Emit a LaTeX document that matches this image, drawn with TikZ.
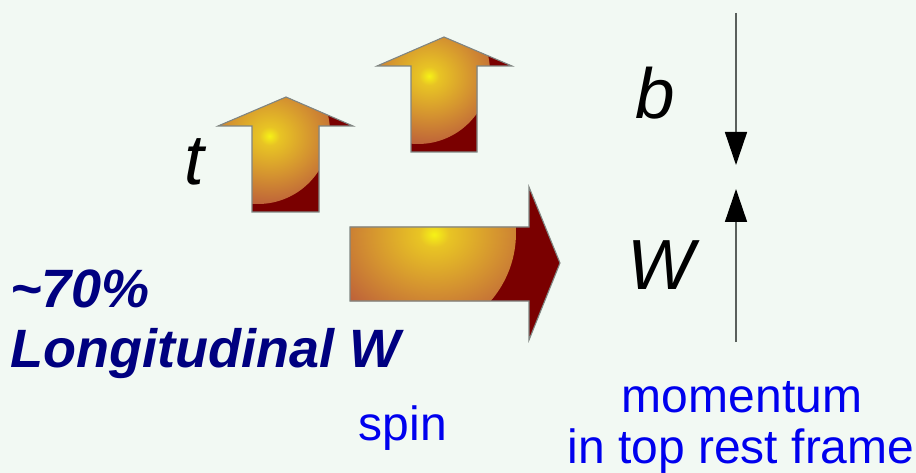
\documentclass[tikz,border=0pt]{standalone}
\usepackage{fontspec}
\setmainfont{Liberation Sans}
\usetikzlibrary{
  arrows.meta,
  positioning
}
\definecolor{bgmint}{RGB}{242, 249, 243}
\definecolor{glowcore}{RGB}{246, 242, 22}
\definecolor{glowgold}{RGB}{232, 196, 36}
\definecolor{glowamber}{RGB}{212, 146, 48}
\definecolor{glowrim}{RGB}{184, 86, 60}
\definecolor{spindark}{RGB}{122, 0, 0}
\definecolor{rimgray}{RGB}{128, 134, 130}
\definecolor{axisgray}{RGB}{90, 96, 92}
\definecolor{fractioncolor}{RGB}{0, 0, 128}
\definecolor{notecolor}{RGB}{0, 0, 238}
\pgfdeclareradialshading{spinglow}{\pgfpoint{0bp}{0bp}}{%
  color(0bp)=(glowcore);
  color(3bp)=(glowgold);
  color(13bp)=(glowamber);
  color(25bp)=(glowrim);
  color(50bp)=(glowrim)}
\tikzset{
spinblock/.style={
  draw=rimgray,
  line width=1.1pt,
  fill=spindark,
  line join=miter
},
particle/.style={
  font=\fontsize{71}{71}\selectfont\itshape,
  text=black,
  inner sep=0pt
},
fractionlabel/.style={
  font=\fontsize{54}{60}\selectfont\bfseries\itshape,
  text=fractioncolor,
  inner sep=0pt
},
notelabel/.style={
  font=\fontsize{48}{52}\selectfont,
  text=notecolor,
  inner sep=0pt
},
momarrow/.style={
  -{Triangle[length=33pt,width=22pt,color=black]},
  line width=1.5pt,
  draw=axisgray
}
}

\begin{document}
\begin{tikzpicture}[x=1pt, y=-1pt]
  \fill[bgmint] (0,0) rectangle (916,473);
  \useasboundingbox (0,0) rectangle (916,473);

  % spin of the top quark
  \draw[spinblock, path picture={\shade[shading=spinglow] (258,132) circle (72);}]
    (252,212) -- (252,126) -- (218,126) -- (286,97) -- (353,126) -- (319,126) -- (319,212) -- cycle;
  % spin of the b quark
  \draw[spinblock, path picture={\shade[shading=spinglow] (418,72) circle (72);}]
    (411,152) -- (411,66) -- (377,66) -- (444,37) -- (512,66) -- (477,66) -- (477,152) -- cycle;
  % spin of the W
  \draw[spinblock, path picture={\shade[shading=spinglow] (412,233) circle (104);}]
    (350,227) -- (529,227) -- (529,187) -- (560,263) -- (529,340) -- (529,301) -- (350,301) -- cycle;

  \node[particle, anchor=base] (top) at (194,185) {t};
  \node[particle, anchor=base] (bquark) at (655,119) {b};
  \node[particle, anchor=base] (wboson) at (661,290) {W};

  % momenta in the top rest frame
  \coordinate (bfrom) at (736,13);
  \coordinate (bto) at (736,165);
  \coordinate (wfrom) at (736,342);
  \coordinate (wto) at (736,189);
  \draw[momarrow] (bfrom) -- (bto);
  \draw[momarrow] (wfrom) -- (wto);

  \node[fractionlabel, anchor=base west] (fraction) at (10,308) {\char"007E 70\%};
  \node[fractionlabel, anchor=base west] (longw) at (10,367) {Longitudinal W};

  \node[notelabel, anchor=base] (spin) at (403,440) {spin};
  \node[notelabel, anchor=base] (momentum) at (742,412) {momentum};
  \node[notelabel, anchor=base] (frame) at (741,463) {in top rest frame};
\end{tikzpicture}
\end{document}
